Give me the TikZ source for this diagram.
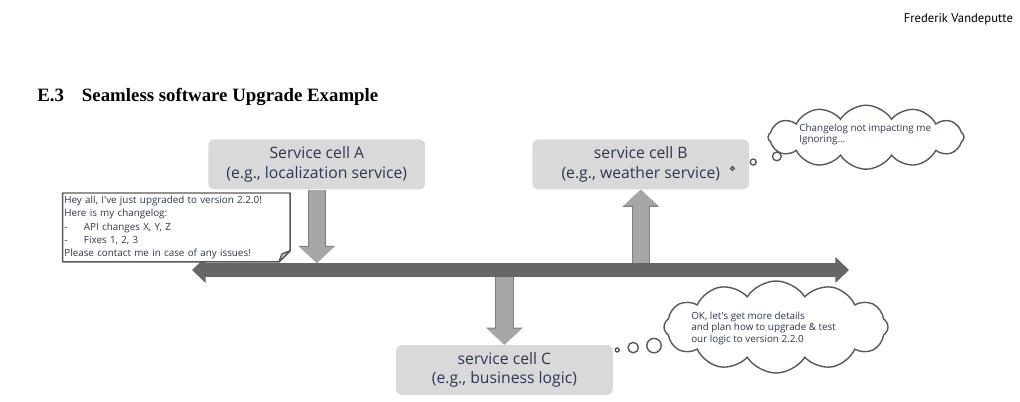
\documentclass[tikz,border=0pt]{standalone}
\usepackage{fontspec}
\usepackage{xcolor}
\usepackage{tikz}
\usetikzlibrary{shapes.symbols, arrows.meta, positioning, calc}
\newfontfamily\headfont{PT Sans}
\newfontfamily\sectfont{Liberation Serif}
\newfontfamily\slidefont{Open Sans}
\definecolor{cellgray}{RGB}{217,217,217}
\definecolor{busgray}{RGB}{102,102,102}
\definecolor{pushgray}{RGB}{166,166,166}
\definecolor{pushedge}{RGB}{127,127,127}
\definecolor{lineedge}{RGB}{89,89,89}
\definecolor{ink}{RGB}{45,55,85}
\tikzset{
    cell/.style={rectangle, rounded corners=0.15cm, fill=cellgray, minimum width=5.42cm,
        minimum height=1.25cm, text=ink, align=center,
        font=\slidefont\fontsize{11.2}{13.9}\selectfont},
    notebox/.style={rectangle, fill=white, anchor=north west, text width=5.6cm,
        inner xsep=1pt, inner ysep=2pt, minimum height=1.65cm, align=left, text=ink,
        font=\slidefont\fontsize{7}{9.4}\selectfont},
    noteline/.style={draw=lineedge, line width=1pt, line join=round},
    thought/.style={cloud, cloud puffs=12, cloud puff arc=115, cloud ignores aspect,
        draw=lineedge, fill=white, line width=1pt},
    thoughttext/.style={anchor=west, align=left, text=ink, inner sep=0pt,
        font=\slidefont\fontsize{7}{7.9}\selectfont},
    bubble/.style={draw=lineedge, line width=1pt, fill=white},
    bus/.style={draw=busgray, line width=0.35cm,
        {Triangle[width=0.63cm,length=0.34cm]}-{Triangle[width=0.63cm,length=0.34cm]}},
    push/.style={draw=pushgray, line width=0.41cm, -{Triangle[width=0.83cm,length=0.4cm]},
        preaction={draw=pushedge, line width=0.46cm, -{Triangle[width=0.89cm,length=0.43cm]}}}
}
\begin{document}
\begin{tikzpicture}
\useasboundingbox (0,0) rectangle (25.5,-10.05);
% page header
\node[anchor=base east, inner sep=0pt, font=\headfont\fontsize{9}{11}\selectfont] (author) at (25.33,-0.56) {Frederik Vandeputte};
\node[anchor=base west, inner sep=0pt, font=\sectfont\bfseries\fontsize{13.4}{15}\selectfont] (section) at (0.925,-2.54) {E.3\hspace{0.45cm}Seamless software Upgrade Example};
% service cells
\node[cell] (cellA) at (7.92,-4.11)  {Service cell A\\(e.g., localization service)};
\node[cell] (cellB) at (16.02,-4.11) {service cell B\\(e.g., weather service)};
\node[cell] (cellC) at (12.61,-9.25) {service cell C\\(e.g., business logic)};
% shared bus
\coordinate (busL) at (4.8,-6.75);
\coordinate (busR) at (21.225,-6.75);
\draw[bus] (busL) -- (busR);
\draw[push, shorten >=0.175cm] (cellA.south) -- (cellA.south |- busL);
\draw[push, shorten <=0.175cm] (cellB.south |- busL) -- (cellB.south);
\draw[push, shorten <=0.175cm] (cellC.north |- busL) -- (cellC.north);
% changelog note
\node[notebox] (note) at (1.5675,-4.825) {Hey all, I've just upgraded to version 2.2.0!\\
Here is my changelog:\\
\makebox[0.49cm][l]{-}API changes X, Y, Z\\
\makebox[0.49cm][l]{-}Fixes 1, 2, 3\\
Please contact me in case of any issues!};
\draw[noteline] (note.north west) -- (note.north east) -- ([yshift=0.28cm]note.south east)
    -- ([xshift=-0.28cm]note.south east) -- (note.south west) -- cycle;
\filldraw[noteline, fill=cellgray] ([xshift=-0.28cm]note.south east) -- ([yshift=0.28cm]note.south east)
    -- ([xshift=-0.2cm,yshift=0.2cm]note.south east) -- cycle;
% thoughts
\node[thought, minimum width=4.9cm, minimum height=1.6cm] (thinkB) at (21.65,-3.43) {};
\node[thoughttext] (textB) at (19.98,-3.36) {Changelog not impacting me\\Ignoring…};
\node[thought, minimum width=5.6cm, minimum height=2.3cm] (thinkC) at (19.4,-8.175) {};
\node[thoughttext] (textC) at (17.275,-8.21) {OK, let's get more details\\and plan how to upgrade \& test\\our logic to version 2.2.0};
\foreach \x/\y/\r in {18.31/-4.21/0.045, 18.83/-4.05/0.075, 19.42/-3.91/0.11,
                      15.43/-8.75/0.05, 15.83/-8.69/0.13, 16.35/-8.64/0.18}
    \draw[bubble] (\x,\y) circle (\r);
\end{tikzpicture}
\end{document}
